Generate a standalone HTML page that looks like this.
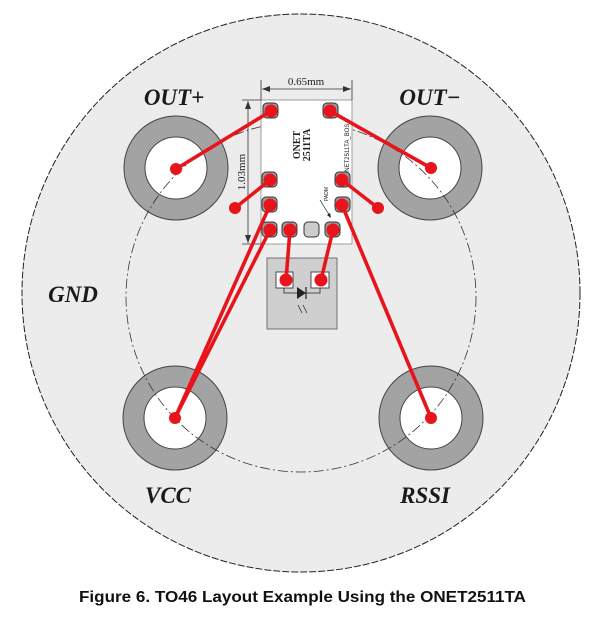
<!DOCTYPE html>
<html><head><meta charset="utf-8"><style>
html,body{margin:0;padding:0;background:#fff;width:614px;height:620px;overflow:hidden}
</style></head><body>
<svg width="614" height="620" viewBox="0 0 614 620" xmlns="http://www.w3.org/2000/svg">
<circle cx="301" cy="293" r="279" fill="#ececec" stroke="#222" stroke-width="1" stroke-dasharray="7,2"/>
<g fill="#a3a3a3" stroke="#444" stroke-width="1">
<circle cx="176" cy="168" r="52"/><circle cx="430" cy="168" r="52"/>
<circle cx="175" cy="418" r="52"/><circle cx="431" cy="418" r="52"/>
</g>
<g fill="#fff" stroke="#444" stroke-width="1">
<circle cx="176" cy="168" r="31"/><circle cx="430" cy="168" r="31"/>
<circle cx="175" cy="418" r="31"/><circle cx="431" cy="418" r="31"/>
</g>
<circle cx="301" cy="297" r="175" fill="none" stroke="#333" stroke-width="0.8" stroke-dasharray="10,3,2,3"/>
<!-- chip -->
<rect x="261" y="100" width="91" height="144" fill="#fff" stroke="#888" stroke-width="0.8"/>
<line x1="261" y1="80" x2="261" y2="100" stroke="#333" stroke-width="0.8"/>
<line x1="352" y1="80" x2="352" y2="100" stroke="#333" stroke-width="0.8"/>
<line x1="262" y1="89" x2="351" y2="89" stroke="#333" stroke-width="0.8"/>
<path d="M262 89 l8 -3 v6z M351 89 l-8 -3 v6z" fill="#333"/>
<text x="306" y="85" font-family="Liberation Serif,serif" font-size="11" text-anchor="middle" fill="#222">0.65mm</text>
<line x1="242" y1="100" x2="261" y2="100" stroke="#333" stroke-width="0.8"/>
<line x1="242" y1="244" x2="261" y2="244" stroke="#333" stroke-width="0.8"/>
<line x1="248" y1="101" x2="248" y2="243" stroke="#333" stroke-width="0.8"/>
<path d="M248 101 l-3 8 h6z M248 243 l-3 -8 h6z" fill="#333"/>
<text transform="translate(245,172) rotate(-90)" font-family="Liberation Serif,serif" font-size="11" text-anchor="middle" fill="#222">1.03mm</text>
<text transform="translate(300,145) rotate(-90)" font-family="Liberation Serif,serif" font-size="10" font-weight="bold" text-anchor="middle" fill="#222">ONET</text>
<text transform="translate(310,145) rotate(-90)" font-family="Liberation Serif,serif" font-size="10" font-weight="bold" text-anchor="middle" fill="#222">2511TA</text>
<text transform="translate(349,150) rotate(-90)" font-family="Liberation Sans,sans-serif" font-size="6" text-anchor="middle" fill="#222">ONET2511TA_BOS</text>
<text transform="translate(328,194) rotate(-90)" font-family="Liberation Sans,sans-serif" font-size="5" text-anchor="middle" fill="#222">PADM</text>
<path d="M320 200 q6 10 10 16" fill="none" stroke="#222" stroke-width="0.7"/>
<path d="M331 218 l-4 -3 l3 -2z" fill="#222"/>
<!-- pads -->
<g fill="#999" stroke="#333" stroke-width="1">
<rect x="263" y="103" width="15" height="15" rx="4"/>
<rect x="323" y="103" width="15" height="15" rx="4"/>
<rect x="262" y="172" width="15" height="15" rx="4"/>
<rect x="262" y="197" width="15" height="15" rx="4"/>
<rect x="335" y="172" width="15" height="15" rx="4"/>
<rect x="335" y="197" width="15" height="15" rx="4"/>
<rect x="262" y="222" width="15" height="15" rx="4"/>
<rect x="282" y="222" width="15" height="15" rx="4"/>
<rect x="304" y="222" width="15" height="15" rx="4" fill="#ccc"/>
<rect x="325" y="222" width="15" height="15" rx="4"/>
</g>
<!-- photodiode -->
<rect x="267" y="258" width="70" height="71" fill="#cfcfcf" stroke="#555" stroke-width="0.8"/>
<rect x="276" y="272" width="17" height="16" fill="#fff" stroke="#222" stroke-width="0.8"/>
<rect x="311" y="272" width="18" height="16" fill="#fff" stroke="#222" stroke-width="0.8"/>
<path d="M284 288 v5 h36 v-5" fill="none" stroke="#222" stroke-width="0.8"/>
<path d="M297 287 l9 6 l-9 6z" fill="#222"/>
<line x1="306" y1="287" x2="306" y2="299" stroke="#222" stroke-width="1.2"/>
<path d="M302 313 l-4 -8 M307 313 l-4 -8" stroke="#222" stroke-width="0.7"/>
<!-- traces -->
<g stroke="#e8141c" stroke-width="3.6" stroke-linecap="round">
<line x1="271" y1="111" x2="176" y2="169"/>
<line x1="330" y1="111" x2="431" y2="168"/>
<line x1="270" y1="180" x2="235" y2="208"/>
<line x1="342" y1="180" x2="378" y2="208"/>
<line x1="270" y1="205" x2="175" y2="418"/>
<line x1="270" y1="230" x2="175" y2="418"/>
<line x1="290" y1="230" x2="286" y2="280"/>
<line x1="333" y1="230" x2="321" y2="280"/>
<line x1="342" y1="205" x2="431" y2="418"/>
</g>
<g fill="#e8141c">
<circle cx="271" cy="111" r="6.5"/><circle cx="330" cy="111" r="6.5"/>
<circle cx="270" cy="180" r="6.5"/><circle cx="342" cy="180" r="6.5"/>
<circle cx="270" cy="205" r="6.5"/><circle cx="342" cy="205" r="6.5"/>
<circle cx="270" cy="230" r="6.5"/><circle cx="290" cy="230" r="6.5"/><circle cx="333" cy="230" r="6.5"/>
<circle cx="286" cy="280" r="6.5"/><circle cx="321" cy="280" r="6.5"/>
<circle cx="176" cy="169" r="6"/><circle cx="431" cy="168" r="6"/>
<circle cx="235" cy="208" r="6"/><circle cx="378" cy="208" r="6"/>
<circle cx="175" cy="418" r="6"/><circle cx="431" cy="418" r="6"/>
</g>
<!-- labels -->
<g font-family="Liberation Serif,serif" font-weight="bold" font-style="italic" font-size="23" fill="#1a1a1a" text-anchor="middle">
<text x="174" y="105">OUT+</text>
<text x="430" y="105">OUT−</text>
<text x="73" y="302">GND</text>
<text x="168" y="503">VCC</text>
<text x="425" y="503">RSSI</text>
</g>
<text x="79" y="602" font-family="Liberation Sans,sans-serif" font-weight="bold" font-size="16" textLength="447" lengthAdjust="spacingAndGlyphs" fill="#111">Figure 6.  TO46 Layout Example Using the ONET2511TA</text>
</svg>
</body></html>
